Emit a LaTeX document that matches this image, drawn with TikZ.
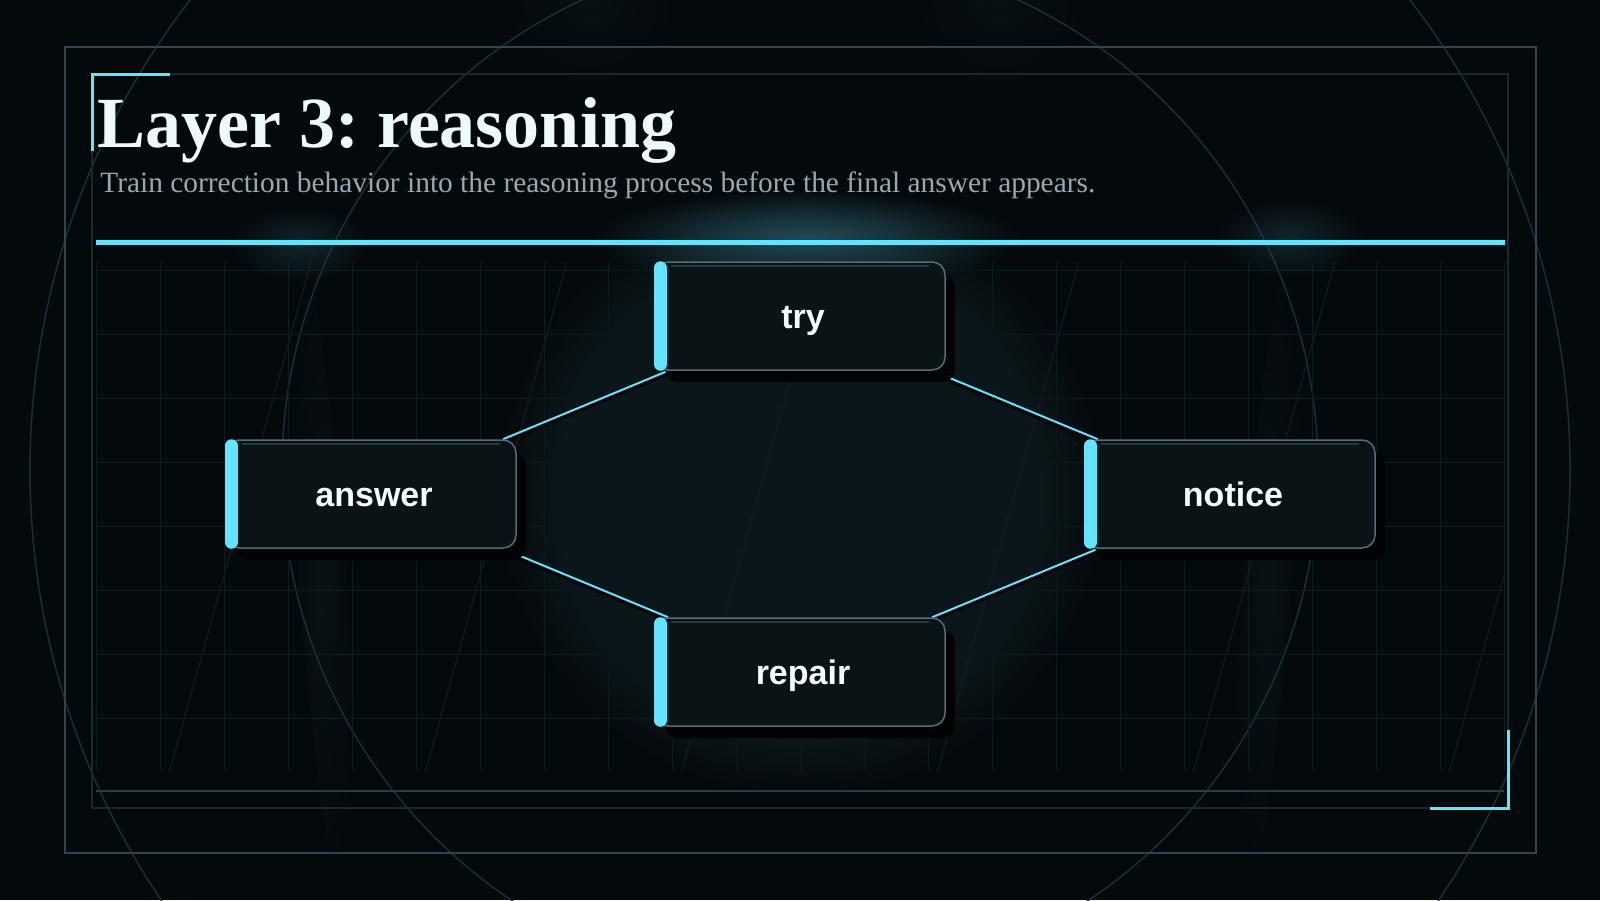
\documentclass[tikz,border=0pt]{standalone}
\usepackage{fontspec}
\setmainfont{Liberation Serif}
\setsansfont{Liberation Sans}
\usepackage{tikz}
\usetikzlibrary{shadows,fadings}
\usepackage{xcolor}
\frenchspacing
\definecolor{lxbg}{RGB}{4,9,12}
\definecolor{lxframe}{RGB}{48,68,77}
\definecolor{lxinner}{RGB}{26,40,46}
\definecolor{lxfoot}{RGB}{42,60,68}
\definecolor{lxgrid}{RGB}{15,28,33}
\definecolor{lxstreak}{RGB}{17,31,37}
\definecolor{lxring}{RGB}{27,45,53}
\definecolor{lxcyan}{RGB}{98,228,255}
\definecolor{lxbox}{RGB}{10,19,22}
\definecolor{lxedge}{RGB}{88,108,118}
\definecolor{lxsheen}{RGB}{36,54,62}
\definecolor{lxshadow}{RGB}{1,3,4}
\definecolor{lxplate}{RGB}{11,22,26}
\definecolor{lxglow}{RGB}{34,74,86}
\definecolor{lxtitle}{RGB}{238,249,252}
\definecolor{lxsub}{RGB}{152,168,176}
\definecolor{lxtext}{RGB}{246,252,255}
\tikzfading[name=lxfade, inner color=transparent!0, outer color=transparent!100]
\pgfdeclarelayer{back}
\pgfdeclarelayer{links}
\pgfsetlayers{back,links,main}
\tikzstyle{stage} = [rectangle, rounded corners=6.5pt, minimum width=145pt, minimum height=54pt, inner sep=0pt, text height=12.2pt, text depth=0pt, draw=lxedge, line width=0.75pt, fill=lxbox, text=lxtext, font=\sffamily\bfseries\fontsize{17}{20}\selectfont, execute at begin node=\hspace*{3pt}, drop shadow={shadow xshift=5pt, shadow yshift=-6pt, opacity=1, fill=lxshadow}]
\tikzstyle{link} = [line width=1pt, color=lxcyan]
\tikzstyle{linkshade} = [line width=2.5pt, color=lxshadow, transform canvas={yshift=-1pt}]
\tikzstyle{accent} = [line width=6.5pt, line cap=round, color=lxcyan]
\tikzstyle{sheen} = [line width=1pt, color=lxsheen]
\tikzstyle{gridline} = [line width=0.5pt, color=lxgrid]
\tikzstyle{ring} = [line width=0.75pt, color=lxring]

\begin{document}
\begin{tikzpicture}[x=0.5pt, y=-0.5pt]
\useasboundingbox (0,0) rectangle (1600,900);

\begin{pgfonlayer}{back}
\begin{scope}
\clip (0,0) rectangle (1600,900);
\fill[lxbg] (0,0) rectangle (1600,900);
\fill[lxplate, path fading=lxfade, opacity=0.6] (590,0) circle (90);
\fill[lxplate, path fading=lxfade, opacity=0.6] (1000,0) circle (90);
\fill[lxplate, path fading=lxfade, opacity=0.7, rotate around={4.4:(322,575)}] (322,575) ellipse (24 and 340);
\fill[lxplate, path fading=lxfade, opacity=0.7, rotate around={-4.4:(1268,575)}] (1268,575) ellipse (24 and 340);
\draw[ring] (800,470) circle (518);
\draw[ring] (800,470) circle (770);
\foreach \i in {0,...,22}
  \draw[gridline] (96+64*\i,262) -- (96+64*\i,770);
\foreach \j in {0,...,7}
  \draw[gridline] (96,270+64*\j) -- (1504,270+64*\j);
\fill[lxplate, path fading=circle with fuzzy edge 20 percent] (800,494) circle (305);
\begin{scope}
\clip (96,262) rectangle (1504,770);
\foreach \k in {0,...,5}
  \draw[line width=0.5pt, lxstreak] (170+256*\k,770) -- (311+256*\k,262);
\end{scope}
\fill[lxglow, path fading=lxfade] (806,238) ellipse (215 and 48);
\fill[lxglow, path fading=lxfade, opacity=0.45] (300,244) ellipse (70 and 38);
\fill[lxglow, path fading=lxfade, opacity=0.45] (1290,238) ellipse (75 and 40);
\draw[lxframe, line width=1pt] (65,47) rectangle (1536,853);
\draw[lxinner, line width=0.75pt] (92,74) rectangle (1508,808);
\draw[lxfoot, line width=0.75pt] (96,791) -- (1504,791);
\draw[lxcyan, line width=1.5pt] (170,74) -- (92,74) -- (92,151);
\draw[lxcyan, line width=1.5pt] (1508,730) -- (1508,808) -- (1430,808);
\draw[lxcyan, line width=2.5pt] (96,242.5) -- (1505,242.5);
\end{scope}
\end{pgfonlayer}

\node[anchor=base west, inner sep=0pt, text=lxtitle, font=\bfseries\fontsize{36}{40}\selectfont] (title) at (97,147) {Layer 3: reasoning};
\node[anchor=base west, inner sep=0pt, text=lxsub, font=\fontsize{14.7}{18}\selectfont] (lede) at (100,192) {Train correction behavior into the reasoning process before the final answer appears.};

\node (try) [stage] at (800,316) {try};
\node (answer) [stage] at (371,494) {answer};
\node (notice) [stage] at (1230,494) {notice};
\node (repair) [stage] at (800,672) {repair};

\foreach \n in {try,answer,notice,repair}{
  \draw[sheen] ([xshift=8.5pt,yshift=-2.2pt]\n.north west) -- ([xshift=-8.5pt,yshift=-2.2pt]\n.north east);
  \draw[accent] ([xshift=3pt,yshift=-3.25pt]\n.north west) -- ([xshift=3pt,yshift=3.25pt]\n.south west);
}

\begin{pgfonlayer}{links}
\draw[linkshade] (try) -- (answer);
\draw[linkshade] (try) -- (notice);
\draw[linkshade] (notice) -- (repair);
\draw[linkshade] (repair) -- (answer);
\draw[link] (try) -- (answer);
\draw[link] (try) -- (notice);
\draw[link] (notice) -- (repair);
\draw[link] (repair) -- (answer);
\end{pgfonlayer}
\end{tikzpicture}
\end{document}
